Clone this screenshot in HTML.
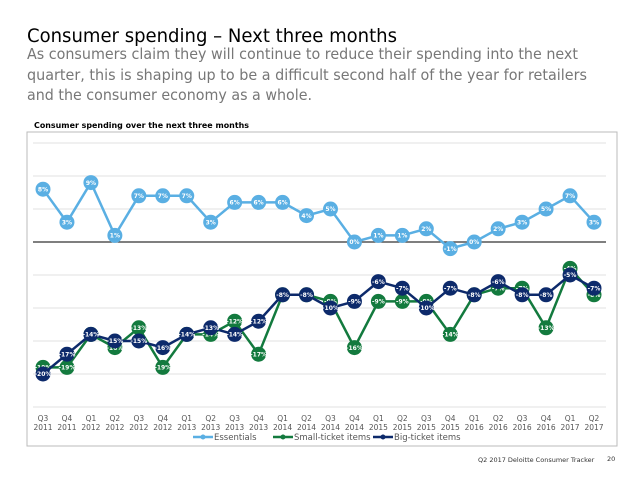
<!DOCTYPE html>
<html><head><meta charset="utf-8"><style>
body{margin:0;background:#fff;width:638px;height:479px;overflow:hidden}
svg{display:block;font-family:"DejaVu Sans","Liberation Sans",sans-serif}
</style></head><body>
<svg id="c" width="638" height="479">
<text x="27" y="42" font-size="19" fill="#000" textLength="370" lengthAdjust="spacingAndGlyphs">Consumer spending – Next three months</text>
<text x="27" y="59" font-size="15.5" fill="#777" textLength="551" lengthAdjust="spacingAndGlyphs">As consumers claim they will continue to reduce their spending into the next</text>
<text x="27" y="80" font-size="15.5" fill="#777" textLength="560" lengthAdjust="spacingAndGlyphs">quarter, this is shaping up to be a difficult second half of the year for retailers</text>
<text x="27" y="100" font-size="15.5" fill="#777" textLength="285" lengthAdjust="spacingAndGlyphs">and the consumer economy as a whole.</text>
<text x="34" y="128" font-size="8" font-weight="bold" fill="#000" textLength="215" lengthAdjust="spacingAndGlyphs">Consumer spending over the next three months</text>
<rect x="27" y="132" width="590" height="314" fill="none" stroke="#bbb"/>
<g id="grid"></g><g id="lines"></g><g id="xl"></g>
<g font-size="8.5" fill="#555">
<line x1="193" y1="437" x2="213" y2="437" stroke="#5aafe3" stroke-width="2.5"/><circle cx="203" cy="437" r="2.5" fill="#5aafe3"/>
<text x="214" y="440">Essentials</text>
<line x1="273" y1="437" x2="293" y2="437" stroke="#137a3e" stroke-width="2.5"/><circle cx="283" cy="437" r="2.5" fill="#137a3e"/>
<text x="294" y="440">Small-ticket items</text>
<line x1="373" y1="437" x2="393" y2="437" stroke="#0d2a6b" stroke-width="2.5"/><circle cx="383" cy="437" r="2.5" fill="#0d2a6b"/>
<text x="394" y="440">Big-ticket items</text>
</g>
<text x="478" y="462" font-size="6.5" fill="#333">Q2 2017 Deloitte Consumer Tracker</text>
<text x="607" y="461" font-size="6.5" fill="#333">20</text>
</svg>
<script>
const categories=[["Q3","2011"],["Q4","2011"],["Q1","2012"],["Q2","2012"],["Q3","2012"],["Q4","2012"],["Q1","2013"],["Q2","2013"],["Q3","2013"],["Q4","2013"],["Q1","2014"],["Q2","2014"],["Q3","2014"],["Q4","2014"],["Q1","2015"],["Q2","2015"],["Q3","2015"],["Q4","2015"],["Q1","2016"],["Q2","2016"],["Q3","2016"],["Q4","2016"],["Q1","2017"],["Q2","2017"]];
const essentials=[8,3,9,1,7,7,7,3,6,6,6,4,5,0,1,1,2,-1,0,2,3,5,7,3];
const smallTicket=[-19,-19,-14,-16,-13,-19,-14,-14,-12,-17,-8,-8,-9,-16,-9,-9,-9,-14,-8,-7,-7,-13,-4,-8];
const bigTicket=[-20,-17,-14,-15,-15,-16,-14,-13,-14,-12,-8,-8,-10,-9,-6,-7,-10,-7,-8,-6,-8,-8,-5,-7];
const gridValues=[15,10,5,0,-5,-10,-15,-20,-25];
const NS="http://www.w3.org/2000/svg";
const X=i=>43+i*(551/23);
const Y=v=>242-v*6.6;
function mk(tag,at,parent){const e=document.createElementNS(NS,tag);for(const k in at)e.setAttribute(k,at[k]);parent.appendChild(e);return e;}
const grid=document.getElementById('grid');
gridValues.forEach(v=>{
 const l=mk('line',{x1:33,x2:606,y1:Y(v),y2:Y(v),stroke:v===0?'#333':'#e2e2e2','stroke-width':v===0?1.2:1},grid);
 
 
});
const xl=document.getElementById('xl');
categories.forEach((c,i)=>{
 const t=mk('text',{x:X(i),y:421,'font-size':7.5,fill:'#555','text-anchor':'middle'},xl);
 
 
 mk('tspan',{x:X(i),dy:0},t).textContent=c[0];
 mk('tspan',{x:X(i),dy:9},t).textContent=c[1];
});
const lines=document.getElementById('lines');
function series(data,color,name){
 const g=mk('g',{},lines);
 
 
 const p=mk('polyline',{points:data.map((v,i)=>X(i)+','+Y(v)).join(' '),fill:'none',stroke:color,'stroke-width':2.5},g);
 
 
 data.forEach((v,i)=>{
  const c=mk('circle',{cx:X(i),cy:Y(v),r:7.5,fill:color},g);
  
  
  const t=mk('text',{x:X(i),y:Y(v)+2.2,'font-size':6,'font-weight':'bold',fill:'#fff','text-anchor':'middle'},g);
  
  
  t.textContent=v+'%';
 });
}
series(essentials,'#5aafe3','essentials');
series(smallTicket,'#137a3e','small-ticket');
series(bigTicket,'#0d2a6b','big-ticket');
</script>
</body></html>
